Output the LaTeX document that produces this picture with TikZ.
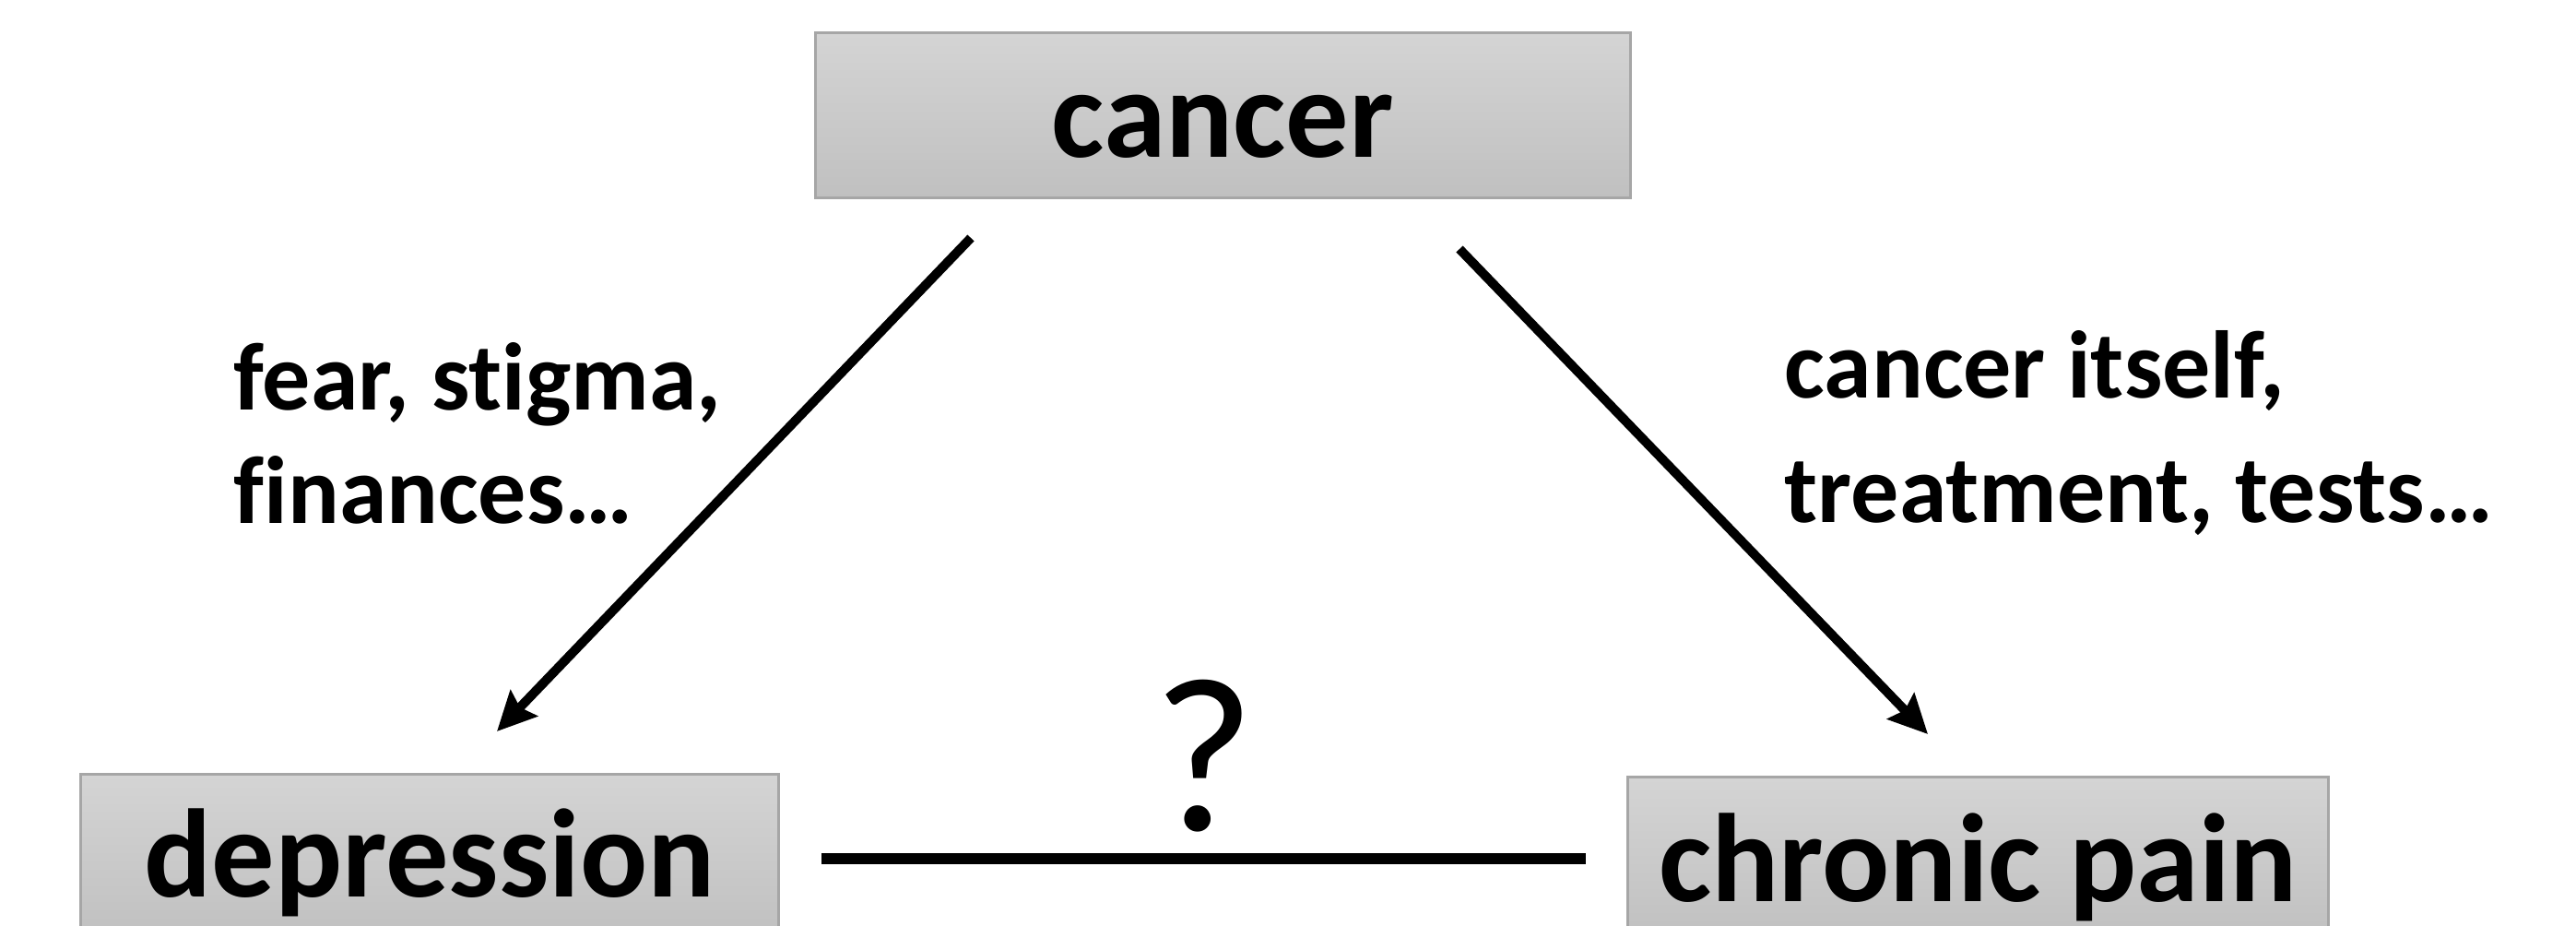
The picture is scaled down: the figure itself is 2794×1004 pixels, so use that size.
\documentclass[tikz,border=0pt]{standalone}
\usepackage{fontspec}
\setmainfont{Carlito}[Ligatures=NoCommon]
\usetikzlibrary{arrows.meta}
\definecolor{boxtop}{RGB}{212,212,212}
\definecolor{boxbot}{RGB}{192,192,192}
\definecolor{boxline}{RGB}{166,166,166}
\begin{document}
\begin{tikzpicture}[x=0.01cm,y=-0.01cm,
  box/.style={draw=boxline, line width=0.03cm, top color=boxtop, bottom color=boxbot,
    inner sep=0pt, font=\fontsize{38.8}{46}\selectfont\bfseries},
  lbl/.style={font=\fontsize{29.6}{35}\selectfont\bfseries, align=left, inner sep=0pt, anchor=base west},
  conn/.style={line width=0.1cm, -{Stealth[length=0.42cm,width=0.40cm,inset=0.06cm]}},
  link/.style={line width=0.11cm}]
\useasboundingbox (0,0) rectangle (2794,1004);
\fill[white] (0,0) rectangle (2794,1004);
% boxes
\node[box, minimum width=8.83cm, text height=1.34cm, text depth=0.44cm] (cancer) at (1326.5,125) {cancer};
\node[box, minimum width=7.56cm, text height=1.32cm, text depth=0.46cm] (dep) at (466,929) {depression};
\node[box, minimum width=7.59cm, text height=1.34cm, text depth=0.44cm] (pain) at (2145.5,932) {chronic pain};
% labels (base anchor = baseline of last line)
\node[lbl] (lfear) at (253,568) {fear, stigma,\\finances…};
\node[lbl] (lcause) at (1935,567) {cancer itself,\\[0.12cm]treatment, tests…};
\node[font=\fontsize{68}{80}\selectfont, inner sep=0pt, anchor=base] (q) at (1306,900) {?};
% connector ends
\coordinate (a1s) at (1053,258);
\coordinate (a1e) at (539,793);
\coordinate (a2s) at (1583,270);
\coordinate (a2e) at (2091,796);
\coordinate (ls) at (891,931);
\coordinate (le) at (1720,931);
\draw[conn] (a1s) -- (a1e);
\draw[conn] (a2s) -- (a2e);
\draw[link] (ls) -- (le);
\end{tikzpicture}
\end{document}
